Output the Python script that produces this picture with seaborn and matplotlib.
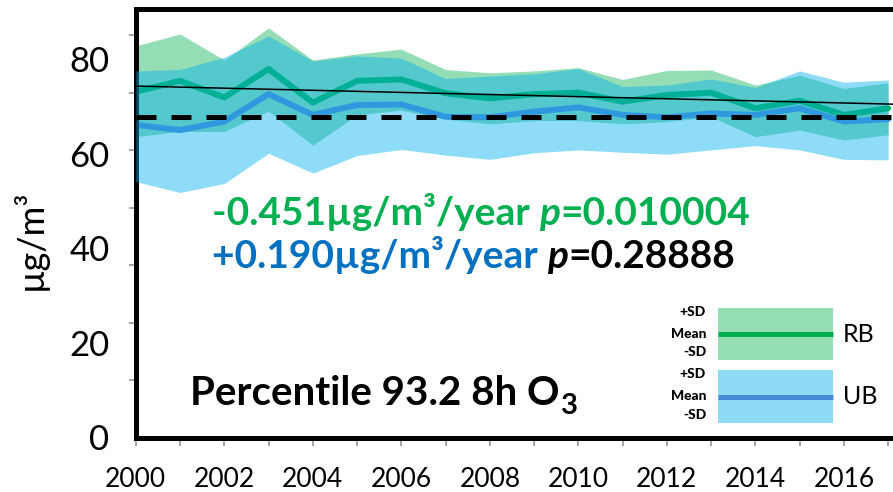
import matplotlib
matplotlib.use("Agg")
import matplotlib.pyplot as plt
from matplotlib.patches import Rectangle
from matplotlib.ticker import MultipleLocator
import pandas as pd
import seaborn as sns

# ---- data -------------------------------------------------------------
years = list(range(2000, 2018))

# Rural background stations (RB): mean and mean +/- SD
rb_mean = [73.1, 75.4, 71.9, 77.9, 70.8, 75.4, 75.7, 72.8, 71.7, 72.6,
           72.9, 71.0, 72.4, 72.9, 69.6, 71.2, 68.2, 69.6]
rb_upper = [82.8, 85.3, 79.8, 86.6, 79.8, 81.1, 82.1, 77.8, 77.1, 77.5,
            78.2, 75.7, 77.6, 77.7, 74.5, 76.6, 73.8, 75.0]
rb_lower = [63.6, 64.7, 64.7, 69.0, 61.8, 68.2, 69.2, 67.3, 66.3, 67.0,
            67.0, 66.3, 66.8, 67.8, 63.6, 65.0, 62.9, 64.0]

# Urban background stations (UB): mean and mean +/- SD
ub_mean = [66.1, 65.0, 66.8, 72.6, 68.2, 70.3, 70.4, 67.8, 67.7, 68.9,
           69.8, 68.2, 67.7, 68.5, 68.2, 69.6, 66.8, 67.3]
ub_upper = [77.5, 77.8, 80.4, 84.9, 79.6, 80.7, 80.2, 75.9, 76.4, 76.9,
            78.0, 74.2, 74.5, 75.8, 74.0, 77.5, 75.1, 75.6]
ub_lower = [54.1, 51.8, 53.7, 60.1, 55.9, 59.6, 60.9, 59.7, 58.8, 60.2,
            60.8, 60.3, 59.9, 60.8, 61.7, 60.8, 58.8, 58.7]

# RB linear trend (value at first and last year) and reference level
trend_years = [2000, 2017]
trend_values = [74.3, 70.5]
reference_level = 67.8

y_tick_values = [0, 20, 40, 60, 80]
x_label_years = list(range(2000, 2017, 2))

# ---- style ------------------------------------------------------------
sns.set_theme(style="white")
plt.rcParams["font.family"] = ["Lato", "DejaVu Sans"]
plt.rcParams["text.color"] = "black"
plt.rcParams["xtick.labelcolor"] = "black"
plt.rcParams["ytick.labelcolor"] = "black"

RB_BAND = (0 / 255, 176 / 255, 80 / 255, 0.42)
UB_BAND = (0 / 255, 176 / 255, 240 / 255, 0.44)
RB_LINE = "#00B050"
UB_LINE = "#5588D4"
RB_TEXT = "#00B050"
UB_TEXT = "#0070C0"

W, H = 893, 492
fig = plt.figure(figsize=(W / 100, H / 100), dpi=100)
ax_left, ax_bottom, ax_top = 135.8, 437.5, 9.2
ax = fig.add_axes([ax_left / W, 1 - ax_bottom / H,
                   (W - ax_left) / W, (ax_bottom - ax_top) / H])

# ---- bands and means --------------------------------------------------
ax.fill_between(years, rb_lower, rb_upper, color=RB_BAND, lw=0, zorder=1)

df = pd.DataFrame({
    "year": years * 2,
    "value": rb_mean + ub_mean,
    "station": ["RB"] * len(years) + ["UB"] * len(years),
})
sns.lineplot(data=df, x="year", y="value", hue="station",
             palette={"RB": RB_LINE, "UB": UB_LINE}, lw=4.3,
             legend=False, ax=ax, zorder=2)

ax.fill_between(years, ub_lower, ub_upper, color=UB_BAND, lw=0, zorder=4)

# trend line and reference level
ax.axline((trend_years[0], trend_values[0]), (trend_years[1], trend_values[1]),
          color="black", lw=1.1, zorder=5)
ax.axhline(reference_level, color="black", lw=3.6, dashes=(4.0, 3.0),
           zorder=6)

# ---- axes -------------------------------------------------------------
ax.set_xlim(2000, 2017.11)
ax.set_ylim(0, 90.55)
ax.set_xlabel("")
ax.set_ylabel("")

ax.set_xticks(x_label_years)
ax.set_xticklabels([str(y) for y in x_label_years])
ax.xaxis.set_minor_locator(MultipleLocator(1))
ax.tick_params(axis="x", which="both", direction="out", length=6, width=1.1,
               color="#8c8c8c", bottom=True, labelsize=19, pad=15,
               labelcolor="black")

ax.set_yticks(y_tick_values)
ax.yaxis.set_minor_locator(MultipleLocator(12.15))
ax.tick_params(axis="y", which="major", length=0, labelsize=25, pad=19,
               left=True, labelcolor="black")
ax.tick_params(axis="y", which="minor", direction="out", length=5, width=1.1,
               color="#8c8c8c", left=True)

for side in ("left", "top", "bottom"):
    ax.spines[side].set_color("black")
    ax.spines[side].set_linewidth(3.6)
ax.spines["right"].set_visible(False)

fig.text(30 / W, 1 - 240 / H, "µg/m³", rotation=90, ha="center",
         va="center", fontsize=26, color="black")


# ---- annotations ------------------------------------------------------
def chained_text(parts, x, y, size):
    """Write consecutive text runs on one baseline."""
    text, color, style = parts[0]
    t = fig.text(x, y, text, color=color, fontsize=size, fontweight="bold",
                 style=style, va="baseline", ha="left")
    for text, color, style in parts[1:]:
        t = ax.annotate(text, xy=(1, 0), xycoords=t, color=color,
                        fontsize=size, fontweight="bold", style=style,
                        va="bottom", ha="left")
    return t


chained_text([("-0.451µg/m³/year ", RB_TEXT, "normal"),
              ("p", RB_TEXT, "italic"),
              ("=0.010004", RB_TEXT, "normal")],
             212 / W, 1 - 225 / H, 28)
chained_text([("+0.190µg/m³/year ", UB_TEXT, "normal"),
              ("p", "black", "italic"),
              ("=0.28888", "black", "normal")],
             212 / W, 1 - 268 / H, 28)

o_text = fig.text(190 / W, 1 - 405 / H, "Percentile 93.2 8h O",
                  fontsize=29, fontweight="bold", va="baseline", ha="left",
                  color="black")
ax.annotate("3", xy=(1, 0), xycoords=o_text, xytext=(1, -5),
            textcoords="offset points", fontsize=21, fontweight="bold",
            va="bottom", ha="left", color="black")


# ---- legend key -------------------------------------------------------
def ax_frac(px, py):
    return ((px - ax_left) / (W - ax_left), (ax_bottom - py) / (ax_bottom - ax_top))


def key_block(top, bottom, band, line, name):
    x0, y0 = ax_frac(718, bottom)
    x1, y1 = ax_frac(833, top)
    ax.add_patch(Rectangle((x0, y0), x1 - x0, y1 - y0, transform=ax.transAxes,
                           facecolor=band, edgecolor="none", zorder=7,
                           clip_on=False))
    mid = (top + bottom) / 2
    _, ym = ax_frac(0, mid)
    ax.plot([x0, x1], [ym, ym], transform=ax.transAxes, color=line, lw=3.6,
            solid_capstyle="butt", zorder=8, clip_on=False)
    for label, py in (("+SD", top + 4), ("Mean", mid), ("-SD", bottom - 8)):
        lx, ly = ax_frac(706, py)
        ax.text(lx, ly, label, transform=ax.transAxes, ha="right",
                va="center", fontsize=10, fontweight="black", zorder=9,
                color="black")
    nx, ny = ax_frac(843, mid)
    ax.text(nx, ny, name, transform=ax.transAxes, ha="left", va="center",
            fontsize=18, zorder=9, color="black")


key_block(308, 360, (147 / 255, 223 / 255, 179 / 255), "#00B050", "RB")
key_block(370, 423, (142 / 255, 219 / 255, 245 / 255), "#4A8AD8", "UB")

fig.savefig("out.png", dpi=100)
